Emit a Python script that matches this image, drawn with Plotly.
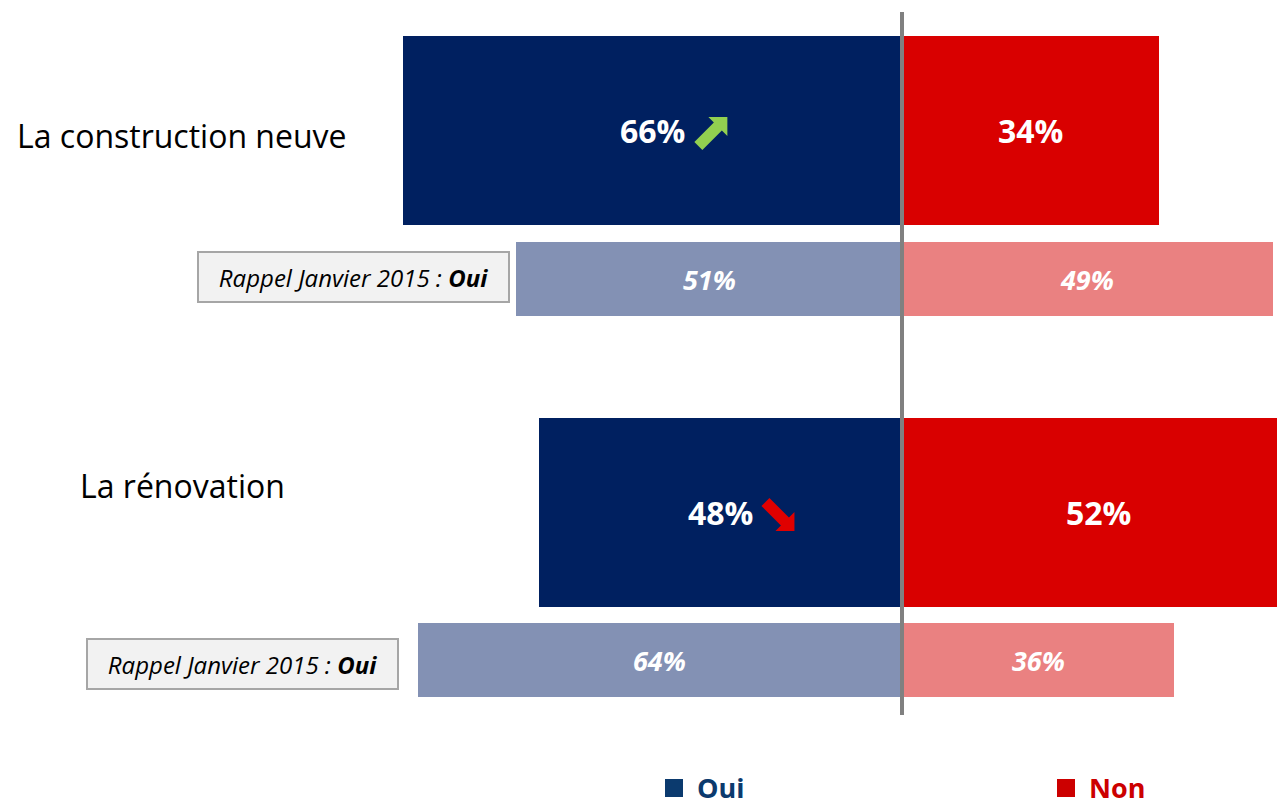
import plotly.graph_objects as go

# data
categories = ['La construction neuve', 'La rénovation']
oui = [66, 48]
non = [34, 52]
rappel_oui = [51, 64]
rappel_non = [49, 36]
trend = ['up', 'down']

# layout (y in page pixels, top = 0)
row_main = [130.5, 512]
row_rappel = [279, 660]
main_h = 189
rappel_h = 74

NAVY = '#002060'
RED = '#D90000'
NAVY_L = '#8391B4'
RED_L = '#EA8181'
FONT = 'Open Sans'

fig = go.Figure()
fig.add_trace(go.Bar(y=row_main, x=[-v for v in oui], orientation='h', width=main_h,
                     marker=dict(color=NAVY, line=dict(width=0)), name='Oui'))
fig.add_trace(go.Bar(y=row_main, x=non, orientation='h', width=main_h,
                     marker=dict(color=RED, line=dict(width=0)), name='Non'))
fig.add_trace(go.Bar(y=row_rappel, x=[-v for v in rappel_oui], orientation='h', width=rappel_h,
                     marker=dict(color=NAVY_L, line=dict(width=0)), name='Oui 2015'))
fig.add_trace(go.Bar(y=row_rappel, x=rappel_non, orientation='h', width=rappel_h,
                     marker=dict(color=RED_L, line=dict(width=0)), name='Non 2015'))


def arrow_path(dx, dy, down):
    # thick diagonal arrow, tip at (dx, dy) pixels from the anchor (y up)
    s = -1 if down else 1
    h, d, t = 19, 4.0, 29
    c = h / 2
    pts = [(0, 0), (-h, 0), (-c - d, -c + d), (-t - d, -t + d), (-t + d, -t - d),
           (-c + d, -c - d), (0, -h)]
    pts = [(px + dx, s * py + dy) for px, py in pts]
    return 'M ' + ' L '.join(f'{px:.1f},{py:.1f}' for px, py in pts) + ' Z'


ann = []
shapes = [dict(type='line', xref='x', yref='y', x0=0, x1=0, y0=12, y1=715,
               line=dict(color='#808080', width=4), layer='above')]
for i, cat in enumerate(categories):
    # category label on the left
    ann.append(dict(xref='paper', yref='y', x=[15, 78][i] / 1277, y=[135, 485][i],
                    xanchor='left', yanchor='middle', showarrow=False, text=cat,
                    font=dict(family=FONT, size=32, color='#000000')))
    # main values
    ann.append(dict(x=-oui[i] / 2, y=row_main[i], text=f'<b>{oui[i]}%</b>', showarrow=False,
                    font=dict(family=FONT, size=32, color='white')))
    ann.append(dict(x=non[i] / 2, y=row_main[i], text=f'<b>{non[i]}%</b>', showarrow=False,
                    font=dict(family=FONT, size=32, color='white')))
    # 2015 values
    ann.append(dict(x=-rappel_oui[i] / 2, y=row_rappel[i], text=f'<b><i>{rappel_oui[i]}%</i></b>',
                    showarrow=False, font=dict(family=FONT, size=27, color='white')))
    ann.append(dict(x=rappel_non[i] / 2, y=row_rappel[i], text=f'<b><i>{rappel_non[i]}%</i></b>',
                    showarrow=False, font=dict(family=FONT, size=27, color='white')))
    # reminder box
    ann.append(dict(xref='paper', yref='y', x=[353.5, 242][i] / 1277, y=[276.5, 663.5][i],
                    xanchor='center', yanchor='middle', showarrow=False,
                    text='<i>Rappel Janvier 2015 : <b>Oui</b></i>',
                    font=dict(family=FONT, size=24, color='#000000'),
                    bgcolor='#F2F2F2', bordercolor='#A6A6A6', borderwidth=2, borderpad=0,
                    width=309, height=48))
    # trend arrow next to the main value
    if trend[i] == 'up':
        path, col = arrow_path(75, 13.5, False), '#92D050'
    else:
        path, col = arrow_path(74, -19, True), '#E00000'
    shapes.append(dict(type='path', xref='x', yref='y', xsizemode='pixel', ysizemode='pixel',
                       xanchor=-oui[i] / 2, yanchor=row_main[i], path=path,
                       fillcolor=col, line=dict(width=0), layer='above'))

# legend
for lx, label, col in [(665, 'Oui', '#0B3A6E'), (1057, 'Non', '#CC0000')]:
    shapes.append(dict(type='rect', xref='paper', yref='y', x0=lx / 1277, x1=(lx + 18) / 1277,
                       y0=779, y1=797, fillcolor=col, line=dict(width=0)))
    ann.append(dict(xref='paper', yref='y', x=(lx + 30) / 1277, y=801, xanchor='left',
                    yanchor='bottom', yshift=-7, showarrow=False, text=f'<b>{label}</b>',
                    font=dict(family=FONT, size=27, color=col)))

fig.update_layout(
    width=1277, height=801,
    margin=dict(l=0, r=0, t=0, b=0),
    paper_bgcolor='white', plot_bgcolor='white',
    barmode='overlay', bargap=0,
    showlegend=False,
    xaxis=dict(range=[-902 / 7.565, 375 / 7.565], visible=False, fixedrange=True),
    yaxis=dict(range=[801, 0], visible=False, fixedrange=True),
    annotations=ann,
    shapes=shapes,
)

fig.write_html('out.html', config={'displayModeBar': False},
               post_script="document.body.style.margin='0';")
